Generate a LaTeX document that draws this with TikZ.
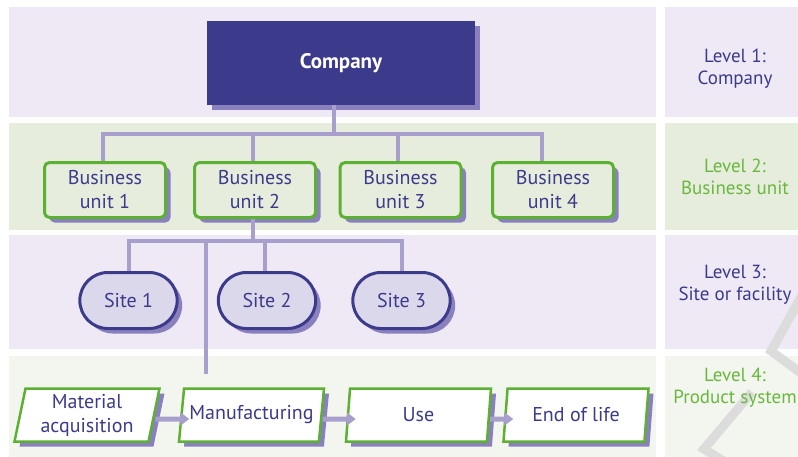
\documentclass[tikz,border=0pt]{standalone}
\usepackage{fontspec}
\setmainfont{PT Sans}
\usetikzlibrary{calc,shapes.geometric,shapes.misc,shadows,arrows.meta}

\definecolor{bandlav}{HTML}{EEE9F4}
\definecolor{bandgreen}{HTML}{E6EDDC}
\definecolor{bandpale}{HTML}{F3F6EE}
\definecolor{darkblue}{HTML}{3C3B8B}
\definecolor{shadowpurple}{HTML}{8A80BE}
\definecolor{linkpurple}{HTML}{A89FCD}
\definecolor{unitgreen}{HTML}{5DB132}
\definecolor{levelgreen}{HTML}{69B83E}
\definecolor{sitefill}{HTML}{DCD8EC}
\definecolor{watermark}{HTML}{DCDCDC}

\begin{document}
\begin{tikzpicture}[x=1pt,y=-1pt,
  lbl/.style={font=\fontsize{20}{24}\selectfont,text=darkblue,align=center},
  shadowed/.style={drop shadow={shadow xshift=5pt,shadow yshift=-5pt,fill=shadowpurple,opacity=1}},
  company/.style={lbl,shadowed,fill=darkblue,text=white,font=\bfseries\fontsize{21}{24}\selectfont,minimum width=268pt,minimum height=84pt},
  unit/.style={lbl,shadowed,draw=unitgreen,line width=3pt,fill=bandgreen,rounded corners=5pt,minimum width=121pt,minimum height=55pt,inner sep=1pt},
  site/.style={lbl,shadowed,rounded rectangle,draw=darkblue,line width=3pt,fill=sitefill,minimum width=104pt,minimum height=56pt},
  stage/.style={lbl,shadowed,trapezium,trapezium left angle=76,trapezium right angle=104,trapezium stretches body,draw=unitgreen,line width=2.5pt,fill=white,minimum width=145pt,minimum height=53pt,inner sep=1pt},
  tree/.style={draw=linkpurple,line width=4pt},
  flow/.style={tree,line width=5pt,-{Triangle[length=9pt,width=13pt]}},
  level/.style={font=\fontsize{19}{22}\selectfont,align=center},
]
  \clip (0,0) rectangle (798,456);
  \fill[white] (0,0) rectangle (798,456);
  %bands
  \fill[bandlav] (9,7) rectangle (656,117);
  \fill[bandlav] (665,7) rectangle (800,117);
  \fill[bandgreen] (9,123) rectangle (656,230);
  \fill[bandgreen] (665,123) rectangle (800,230);
  \fill[bandlav] (9,235) rectangle (656,349);
  \fill[bandlav] (665,235) rectangle (800,349);
  \fill[bandpale] (9,356) rectangle (656,460);
  \fill[bandpale] (665,356) rectangle (800,460);
  %watermark
  \draw[watermark,line width=9pt] (805,290) -- (771,351) -- (805,376);
  \draw[watermark,line width=9pt] (752,392) -- (704,449) -- (725,462);

  %LEVEL 1
  \node[company] (comp) at (341,63) {Company};
  %LEVEL 2
  \node[unit] (bu1) at (105,190) {Business\\unit 1};
  \node[unit] (bu2) at (255,190) {Business\\unit 2};
  \node[unit] (bu3) at (400.5,190) {Business\\unit 3};
  \node[unit] (bu4) at (553,190) {Business\\unit 4};
  %LEVEL 3
  \node[site] (s1) at (128.5,300.5) {Site 1};
  \node[site] (s2) at (267,300.5) {Site 2};
  \node[site] (s3) at (401.5,300.5) {Site 3};
  %LEVEL 4
  \node[stage] (mat) at (87,415) {Material\\acquisition};
  \node[stage] (man) at (251.5,415) {Manufacturing};
  \node[stage] (use) at (418.5,415) {Use};
  \node[stage] (eol) at (576,415) {End of life};

  %company -> units
  \draw[tree] ([xshift=-7pt]comp.south) -- ++(0,29) coordinate (j1);
  \draw[tree] ([xshift=-2pt]bu1.north) |- (j1) -| ([xshift=-11pt]bu4.north);
  \draw[tree] ([xshift=-2pt]bu2.north) -- ([xshift=-2pt]bu2.north |- j1);
  \draw[tree] ([xshift=-3pt]bu3.north) -- ([xshift=-3pt]bu3.north |- j1);
  %unit 2 -> sites
  \draw[tree] ([xshift=-2pt]bu2.south) -- ++(0,22) coordinate (j2);
  \draw[tree] (s1.north) |- (j2) -| (s3.north);
  \draw[tree] ([xshift=-2pt]s2.north) -- ([xshift=-2pt]s2.north |- j2);
  \coordinate (prod) at ($(man.north)+(-46,-13)$);
  \draw[tree] (prod |- j2) -- (prod);
  %product system
  \draw[flow] ([yshift=-4pt]mat.east) -- ([xshift=9pt,yshift=-4pt]man.west);
  \draw[flow] ([yshift=-4pt]man.east) -- ([xshift=9pt,yshift=-4pt]use.west);
  \draw[flow] ([yshift=-4pt]use.east) -- ([xshift=9pt,yshift=-4pt]eol.west);

  %level labels
  \node[level,text=darkblue] (l1) at (735,69) {Level 1:\\Company};
  \node[level,text=levelgreen] (l2) at (735,177) {Level 2:\\Business unit};
  \node[level,text=darkblue] (l3) at (735,285) {Level 3:\\Site or facility};
  \node[level,text=levelgreen] (l4) at (735,388) {Level 4:\\Product system};
\end{tikzpicture}
\end{document}
